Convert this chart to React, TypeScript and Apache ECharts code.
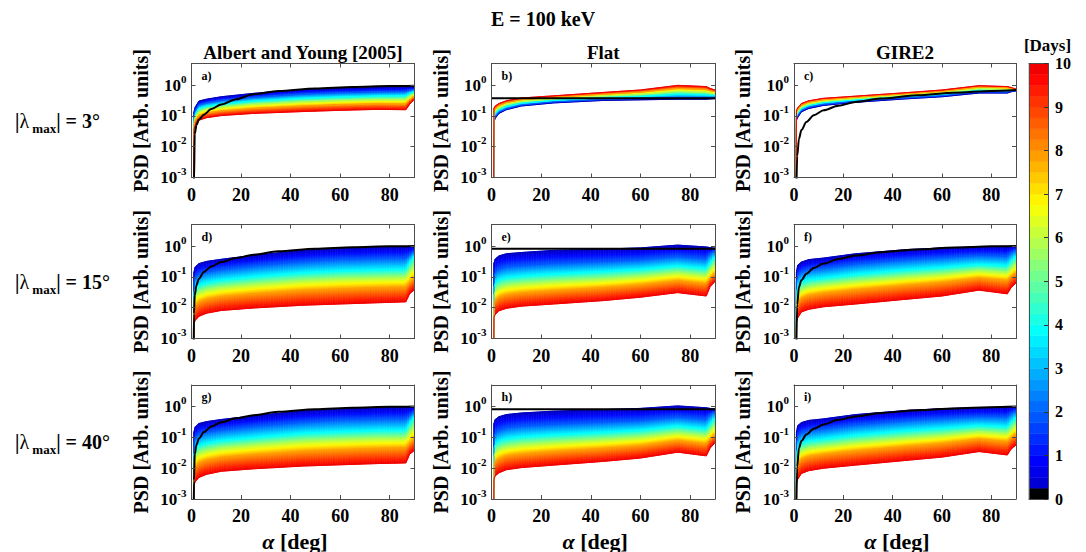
import React, { useEffect, useRef } from "react";
import * as echarts from "echarts";

const SERIF = '"Liberation Serif", "Times New Roman", serif';
const FRAME = "#4d4d4d";

// pitch angles (deg) at which the coloured curves were read
const ALPHA = [0.8, 1, 1.5, 3, 6, 12, 25, 45, 60, 75, 86.5, 88, 90];
// day of each coloured curve (one row per day in every PANEL_* table)
const DAYS = [0.25, 2, 4, 6, 8, 10];
// pitch angles (deg) at which the black (day 0) curves were read
const BLACK_ALPHA = [0, 0.8, 1, 1.3, 2, 3, 5, 8, 12, 18, 25, 35, 50, 65, 80, 90];

// PSD values, written as log10 exponents (-4 = below the axis, i.e. empty loss cone)
const PANEL_A = [
  [-4, -0.87, -0.72, -0.52, -0.46, -0.38, -0.27, -0.15, -0.11, -0.08, -0.07, -0.06, -0.06],
  [-4, -0.99, -0.84, -0.64, -0.58, -0.5, -0.4, -0.29, -0.25, -0.22, -0.21, -0.17, -0.14],
  [-4, -1.1, -0.95, -0.76, -0.69, -0.62, -0.52, -0.43, -0.39, -0.36, -0.35, -0.28, -0.21],
  [-4, -1.2, -1.05, -0.87, -0.79, -0.72, -0.63, -0.55, -0.51, -0.48, -0.48, -0.38, -0.28],
  [-4, -1.31, -1.16, -0.99, -0.91, -0.84, -0.76, -0.68, -0.64, -0.61, -0.62, -0.49, -0.36],
  [-4, -1.45, -1.3, -1.14, -1.06, -0.99, -0.92, -0.86, -0.82, -0.79, -0.8, -0.63, -0.46],
];
const BLACK_A = [-4, -4, -3.2, -1.6, -1.3, -1.12, -0.96, -0.78, -0.63, -0.46, -0.3, -0.19, -0.11, -0.06, -0.03, -0.02];

const PANEL_B = [
  [-4, -1.2, -1.08, -0.92, -0.8, -0.68, -0.58, -0.5, -0.48, -0.46, -0.46, -0.45, -0.44],
  [-4, -1.15, -1.03, -0.88, -0.77, -0.65, -0.55, -0.47, -0.44, -0.41, -0.41, -0.41, -0.41],
  [-4, -1.04, -0.94, -0.81, -0.7, -0.59, -0.5, -0.41, -0.37, -0.3, -0.32, -0.33, -0.34],
  [-4, -0.94, -0.85, -0.74, -0.63, -0.53, -0.45, -0.35, -0.3, -0.2, -0.23, -0.26, -0.28],
  [-4, -0.85, -0.77, -0.67, -0.57, -0.48, -0.4, -0.3, -0.23, -0.11, -0.14, -0.18, -0.22],
  [-4, -0.75, -0.68, -0.6, -0.51, -0.42, -0.35, -0.24, -0.16, -0.01, -0.05, -0.11, -0.16],
];
const BLACK_B = [-0.43, -0.43, -0.43, -0.43, -0.43, -0.43, -0.43, -0.43, -0.43, -0.43, -0.43, -0.43, -0.43, -0.43, -0.43, -0.43];

const PANEL_C = [
  [-4, -1.14, -1.05, -0.87, -0.76, -0.66, -0.56, -0.45, -0.38, -0.26, -0.26, -0.22, -0.19],
  [-4, -1.09, -1.0, -0.83, -0.72, -0.63, -0.53, -0.42, -0.35, -0.22, -0.23, -0.2, -0.18],
  [-4, -1.02, -0.93, -0.77, -0.66, -0.57, -0.48, -0.37, -0.3, -0.17, -0.18, -0.17, -0.17],
  [-4, -0.95, -0.87, -0.71, -0.62, -0.53, -0.44, -0.33, -0.25, -0.12, -0.14, -0.14, -0.15],
  [-4, -0.89, -0.81, -0.66, -0.56, -0.48, -0.4, -0.29, -0.21, -0.07, -0.09, -0.11, -0.14],
  [-4, -0.82, -0.74, -0.6, -0.51, -0.43, -0.36, -0.25, -0.16, -0.02, -0.05, -0.08, -0.13],
];
const BLACK_C = [-4, -4, -4, -2.3, -1.75, -1.46, -1.2, -0.98, -0.82, -0.67, -0.55, -0.44, -0.33, -0.25, -0.19, -0.16];

const PANEL_D = [
  [-4, -0.84, -0.68, -0.57, -0.5, -0.43, -0.3, -0.14, -0.07, -0.04, -0.03, -0.02, 0],
  [-4, -1.17, -1.03, -0.91, -0.84, -0.76, -0.64, -0.5, -0.43, -0.4, -0.39, -0.3, -0.15],
  [-4, -1.52, -1.39, -1.27, -1.19, -1.11, -1.0, -0.87, -0.81, -0.78, -0.76, -0.55, -0.32],
  [-4, -1.78, -1.65, -1.53, -1.44, -1.36, -1.26, -1.14, -1.08, -1.05, -1.03, -0.86, -0.68],
  [-4, -2.06, -1.94, -1.82, -1.73, -1.64, -1.55, -1.44, -1.39, -1.35, -1.33, -1.2, -1.05],
  [-4, -2.51, -2.41, -2.28, -2.18, -2.09, -2.01, -1.92, -1.88, -1.84, -1.81, -1.55, -1.42],
];
const BLACK_D = [-4, -4, -2.2, -1.6, -1.27, -1.06, -0.84, -0.66, -0.52, -0.39, -0.28, -0.17, -0.09, -0.04, -0.01, 0];

const PANEL_E = [
  [-4, -0.55, -0.42, -0.32, -0.25, -0.21, -0.14, -0.1, -0.06, 0.03, -0.03, -0.05, -0.07],
  [-4, -0.97, -0.85, -0.75, -0.67, -0.63, -0.56, -0.5, -0.44, -0.34, -0.41, -0.25, -0.15],
  [-4, -1.32, -1.21, -1.1, -1.03, -0.98, -0.91, -0.83, -0.76, -0.65, -0.73, -0.55, -0.35],
  [-4, -1.58, -1.48, -1.37, -1.29, -1.24, -1.17, -1.09, -1.0, -0.88, -0.97, -0.8, -0.62],
  [-4, -1.86, -1.77, -1.66, -1.58, -1.52, -1.45, -1.35, -1.26, -1.13, -1.22, -1.05, -0.9],
  [-4, -2.3, -2.22, -2.1, -2.02, -1.95, -1.88, -1.77, -1.66, -1.51, -1.62, -1.32, -1.15],
];
const BLACK_E = [-0.09, -0.09, -0.09, -0.09, -0.09, -0.09, -0.09, -0.09, -0.09, -0.09, -0.09, -0.09, -0.09, -0.09, -0.09, -0.09];

const PANEL_F = [
  [-4, -0.84, -0.62, -0.52, -0.44, -0.39, -0.25, -0.12, -0.06, -0.02, -0.01, -0.01, 0],
  [-4, -1.16, -0.96, -0.84, -0.76, -0.71, -0.58, -0.44, -0.37, -0.3, -0.32, -0.22, -0.12],
  [-4, -1.5, -1.32, -1.18, -1.1, -1.04, -0.92, -0.78, -0.7, -0.6, -0.64, -0.5, -0.32],
  [-4, -1.74, -1.58, -1.43, -1.34, -1.27, -1.16, -1.02, -0.93, -0.81, -0.87, -0.75, -0.6],
  [-4, -2.0, -1.85, -1.69, -1.6, -1.53, -1.42, -1.28, -1.18, -1.04, -1.12, -1.0, -0.88],
  [-4, -2.45, -2.33, -2.14, -2.05, -1.97, -1.88, -1.73, -1.62, -1.43, -1.55, -1.35, -1.2],
];
const BLACK_F = [-4, -4, -4, -1.9, -1.33, -1.11, -0.9, -0.71, -0.57, -0.42, -0.31, -0.2, -0.11, -0.05, -0.01, 0];

const PANEL_G = [
  [-4, -0.82, -0.66, -0.55, -0.49, -0.42, -0.3, -0.14, -0.07, -0.04, -0.03, -0.02, 0],
  [-4, -1.17, -1.02, -0.9, -0.83, -0.76, -0.64, -0.5, -0.43, -0.4, -0.39, -0.3, -0.15],
  [-4, -1.53, -1.39, -1.27, -1.19, -1.11, -1.01, -0.87, -0.82, -0.78, -0.77, -0.56, -0.33],
  [-4, -1.79, -1.66, -1.53, -1.45, -1.36, -1.26, -1.14, -1.09, -1.05, -1.04, -0.87, -0.69],
  [-4, -2.08, -1.96, -1.83, -1.74, -1.65, -1.56, -1.45, -1.4, -1.36, -1.34, -1.21, -1.06],
  [-4, -2.55, -2.44, -2.3, -2.2, -2.1, -2.02, -1.93, -1.89, -1.85, -1.83, -1.55, -1.42],
];
const BLACK_G = [-4, -4, -2.4, -1.55, -1.24, -1.04, -0.83, -0.65, -0.51, -0.38, -0.28, -0.17, -0.09, -0.04, -0.01, 0];

const PANEL_H = [
  [-4, -0.55, -0.42, -0.33, -0.26, -0.21, -0.15, -0.1, -0.06, 0.02, -0.04, -0.06, -0.08],
  [-4, -0.98, -0.86, -0.77, -0.69, -0.63, -0.57, -0.5, -0.45, -0.34, -0.41, -0.27, -0.16],
  [-4, -1.34, -1.23, -1.13, -1.05, -0.99, -0.92, -0.84, -0.77, -0.64, -0.73, -0.57, -0.37],
  [-4, -1.61, -1.5, -1.4, -1.32, -1.25, -1.18, -1.09, -1.01, -0.87, -0.96, -0.82, -0.64],
  [-4, -1.9, -1.79, -1.7, -1.6, -1.54, -1.46, -1.36, -1.27, -1.11, -1.21, -1.07, -0.92],
  [-4, -2.35, -2.25, -2.15, -2.05, -1.98, -1.9, -1.78, -1.67, -1.48, -1.6, -1.35, -1.18],
];
const BLACK_H = [-0.09, -0.09, -0.09, -0.09, -0.09, -0.09, -0.09, -0.09, -0.09, -0.09, -0.09, -0.09, -0.09, -0.09, -0.09, -0.09];

const PANEL_I = [
  [-4, -0.84, -0.62, -0.52, -0.45, -0.4, -0.26, -0.13, -0.07, -0.03, -0.02, -0.01, 0],
  [-4, -1.17, -0.97, -0.85, -0.78, -0.72, -0.59, -0.45, -0.38, -0.32, -0.33, -0.23, -0.13],
  [-4, -1.51, -1.33, -1.2, -1.12, -1.06, -0.93, -0.79, -0.71, -0.62, -0.66, -0.52, -0.34],
  [-4, -1.76, -1.59, -1.44, -1.36, -1.3, -1.18, -1.04, -0.95, -0.83, -0.89, -0.77, -0.62],
  [-4, -2.02, -1.87, -1.71, -1.62, -1.55, -1.44, -1.3, -1.2, -1.06, -1.14, -1.03, -0.91],
  [-4, -2.48, -2.36, -2.17, -2.08, -2.0, -1.9, -1.75, -1.64, -1.46, -1.57, -1.38, -1.25],
];
const BLACK_I = [-4, -4, -4, -1.95, -1.35, -1.12, -0.91, -0.72, -0.58, -0.43, -0.32, -0.21, -0.12, -0.06, -0.02, 0];

const COL_TITLES = ["Albert and Young [2005]", "Flat", "GIRE2"];
const ROW_LATITUDES = ["3", "15", "40"];
const PANEL_LETTERS = ["a)", "b)", "c)", "d)", "e)", "f)", "g)", "h)", "i)"];
const MAIN_TITLE = "E = 100 keV";
const Y_NAME = "PSD [Arb. units]";
const COLORBAR_NAME = "[Days]";
const COLORBAR_MAX = 10;
const COLORBAR_STEP = 0.25;

const PANELS = [
  { curves: PANEL_A, black: BLACK_A },
  { curves: PANEL_B, black: BLACK_B },
  { curves: PANEL_C, black: BLACK_C },
  { curves: PANEL_D, black: BLACK_D },
  { curves: PANEL_E, black: BLACK_E },
  { curves: PANEL_F, black: BLACK_F },
  { curves: PANEL_G, black: BLACK_G },
  { curves: PANEL_H, black: BLACK_H },
  { curves: PANEL_I, black: BLACK_I },
];

// layout (px)
const COL_LEFT = [191.5, 491.5, 794];
const COL_W = [223, 223.5, 222];
const ROW_TOP = [63.5, 224.5, 385];
const ROW_H = 114;
const CB = { left: 1029, top: 63.5, width: 19, height: 435.5 };

function jet(t: number) {
  const c = (v: number) => Math.max(0, Math.min(1, v));
  const r = c(1.5 - Math.abs(4 * t - 3));
  const g = c(1.5 - Math.abs(4 * t - 2));
  const b = c(1.5 - Math.abs(4 * t - 1));
  return `rgb(${Math.round(r * 255)},${Math.round(g * 255)},${Math.round(b * 255)})`;
}
const dayColor = (d: number) => jet(0.04 + d * 0.085);

const Y_RICH = {
  b: { fontFamily: SERIF, fontSize: 17, fontWeight: "bold", color: "#000", lineHeight: 24 },
  s: { fontFamily: SERIF, fontSize: 11, fontWeight: "bold", color: "#000", lineHeight: 12, verticalAlign: "top" },
};

function yFmt(v: number) {
  const l = Math.log10(v);
  const e = Math.round(l);
  if (Math.abs(l - e) > 0.01) return "";
  return `{b|10}{s|${e}}`;
}

const lerp = (P: number[], Q: number[], t: number) => [P[0] + (Q[0] - P[0]) * t, P[1] + (Q[1] - P[1]) * t];

function bandSeries(p: number, curves: number[][]) {
  const items: any[] = [];
  for (let k = 0; k < DAYS.length - 1; k++)
    for (let i = 0; i < ALPHA.length - 1; i++) items.push({ kind: 0, k, i });
  for (let k = 0; k < DAYS.length; k++) items.push({ kind: 1, k });
  return {
    type: "custom",
    xAxisIndex: 2 * p,
    yAxisIndex: 2 * p,
    clip: true,
    silent: true,
    z: 2,
    data: items.map((_, j) => [45, 0.1, j]),
    encode: { x: 0, y: 1 },
    renderItem: (params: any, api: any) => {
      const it = items[params.dataIndex];
      const cs = params.coordSys;
      const bottom = cs.y + cs.height;
      const pt = (a: number, v: number) => api.coord([a, Math.pow(10, v)]);
      if (it.kind === 0) {
        const A = curves[it.k];
        const B = curves[it.k + 1];
        const p1 = pt(ALPHA[it.i], A[it.i]);
        const p2 = pt(ALPHA[it.i + 1], A[it.i + 1]);
        const p3 = pt(ALPHA[it.i + 1], B[it.i + 1]);
        const p4 = pt(ALPHA[it.i], B[it.i]);
        const d0 = DAYS[it.k];
        const d1 = DAYS[it.k + 1];
        const m = Math.max(1, Math.ceil(Math.abs(p2[0] - p1[0]) / 2.5));
        const children: any[] = [];
        for (let j = 0; j < m; j++) {
          const t0 = j / m;
          const t1 = (j + 1) / m;
          const a0 = lerp(p1, p2, t0);
          const a1 = lerp(p1, p2, t1);
          const b0 = lerp(p4, p3, t0);
          const b1 = lerp(p4, p3, t1);
          if (Math.min(a0[1], a1[1], b0[1], b1[1]) > bottom + 1) continue;
          const xm = (a0[0] + a1[0]) / 2;
          const ya = (a0[1] + a1[1]) / 2;
          const yb = (b0[1] + b1[1]) / 2;
          const mk = () =>
            Math.abs(yb - ya) < 0.5
              ? dayColor((d0 + d1) / 2)
              : new echarts.graphic.LinearGradient(
                  xm, ya, xm, yb,
                  [0, 0.25, 0.5, 0.75, 1].map((t) => ({ offset: t, color: dayColor(d0 + (d1 - d0) * t) })),
                  true
                );
          children.push({
            type: "polygon",
            shape: { points: [a0, a1, b1, b0] },
            style: { fill: mk(), stroke: mk(), lineWidth: 0.7 },
          });
        }
        return { type: "group", children };
      }
      const c = curves[it.k];
      return {
        type: "polyline",
        z2: 10,
        shape: { points: ALPHA.map((a, i) => pt(a, c[i])) },
        style: { stroke: dayColor(DAYS[it.k]), lineWidth: 1, fill: null },
      };
    },
  };
}

function blackSeries(p: number, black: number[]) {
  return {
    type: "line",
    xAxisIndex: 2 * p,
    yAxisIndex: 2 * p,
    data: BLACK_ALPHA.map((a, i) => [a, Math.pow(10, black[i])]),
    showSymbol: false,
    symbol: "none",
    smooth: 0.3,
    smoothMonotone: "x",
    silent: true,
    clip: true,
    z: 4,
    lineStyle: { color: "#000", width: 2 },
  };
}

function buildOption() {
  const grid: any[] = [];
  const xAxis: any[] = [];
  const yAxis: any[] = [];
  const series: any[] = [];
  const graphic: any[] = [];

  const txt = (x: number, y: number, text: string, font: any, extra: any = {}) => ({
    type: "text",
    x,
    y,
    silent: true,
    ...extra,
    style: {
      text,
      fill: "#000",
      fontFamily: SERIF,
      align: "center",
      verticalAlign: "middle",
      textAlign: "center",
      textVerticalAlign: "middle",
      ...font,
    },
  });

  PANELS.forEach((panel, p) => {
    const row = Math.floor(p / 3);
    const col = p % 3;
    const left = COL_LEFT[col];
    const top = ROW_TOP[row];
    const width = COL_W[col];
    const height = ROW_H;
    grid.push({ left, top, width, height });

    const xBase = {
      gridIndex: p,
      type: "value",
      min: 0,
      max: 90,
      interval: 20,
      splitLine: { show: false },
      axisLine: { show: true, onZero: false, lineStyle: { color: FRAME, width: 1 } },
      axisTick: { show: true, inside: true, length: 4, lineStyle: { color: FRAME } },
      z: 5,
    };
    xAxis.push({
      ...xBase,
      position: "bottom",
      axisLabel: {
        show: true,
        margin: 8,
        fontFamily: SERIF,
        fontSize: 18,
        fontWeight: "bold",
        color: "#000",
        formatter: (v: number) => (v % 20 === 0 ? String(v) : ""),
      },
    });
    xAxis.push({ ...xBase, position: "top", axisLabel: { show: false } });

    const yBase = {
      gridIndex: p,
      type: "log",
      logBase: 10,
      min: 0.001,
      max: 5,
      splitLine: { show: false },
      minorTick: { show: false },
      axisLine: { show: true, onZero: false, lineStyle: { color: FRAME, width: 1 } },
      axisTick: { show: true, inside: true, length: 4, lineStyle: { color: FRAME } },
      z: 5,
    };
    yAxis.push({ ...yBase, position: "left", axisLabel: { show: true, margin: 5, formatter: yFmt, rich: Y_RICH } });
    yAxis.push({ ...yBase, position: "right", axisLabel: { show: false } });

    series.push(bandSeries(p, panel.curves));
    series.push(blackSeries(p, panel.black));

    graphic.push(
      txt(left - 51, top + height / 2, Y_NAME, { fontSize: 20, fontWeight: "bold" }, { rotation: Math.PI / 2 })
    );
    graphic.push(
      txt(left + 10, top + 12, PANEL_LETTERS[p], {
        fontSize: 12,
        fontWeight: "bold",
        align: "left",
        textAlign: "left",
      })
    );
  });

  COL_TITLES.forEach((t, col) => {
    graphic.push(txt(COL_LEFT[col] + COL_W[col] / 2, ROW_TOP[0] - 11.5, t, { fontSize: 19, fontWeight: "bold" }));
    graphic.push(
      txt(COL_LEFT[col] + COL_W[col] / 2 - 8, 541, "{i|α}{r| [deg]}", {
        rich: {
          i: { fontFamily: SERIF, fontSize: 22, fontStyle: "italic", fontWeight: "bold", color: "#000" },
          r: { fontFamily: SERIF, fontSize: 22, fontWeight: "bold", color: "#000" },
        },
      })
    );
  });

  ROW_LATITUDES.forEach((lat, row) => {
    graphic.push(
      txt(15, ROW_TOP[row] + ROW_H / 2, `{b||}{l|λ}{sub| max}{b|| = ${lat}°}`, {
        align: "left",
        textAlign: "left",
        rich: {
          b: { fontFamily: SERIF, fontSize: 20, fontWeight: "bold", color: "#000", lineHeight: 28 },
          l: { fontFamily: SERIF, fontSize: 20, color: "#000", lineHeight: 28 },
          sub: { fontFamily: SERIF, fontSize: 13, fontWeight: "bold", color: "#000", lineHeight: 14, verticalAlign: "bottom" },
        },
      })
    );
  });

  graphic.push(txt(543, 19, MAIN_TITLE, { fontSize: 20, fontWeight: "bold" }));
  graphic.push(txt(CB.left + CB.width / 2 + 9, 45, COLORBAR_NAME, { fontSize: 17, fontWeight: "bold" }));

  // colorbar
  const cbIdx = PANELS.length;
  grid.push({ left: CB.left, top: CB.top, width: CB.width, height: CB.height });
  const cbX = {
    gridIndex: cbIdx,
    type: "value",
    min: 0,
    max: 1,
    axisLabel: { show: false },
    axisTick: { show: false },
    splitLine: { show: false },
    axisLine: { show: true, onZero: false, lineStyle: { color: FRAME, width: 1 } },
    z: 5,
  };
  xAxis.push({ ...cbX, position: "bottom" });
  xAxis.push({ ...cbX, position: "top" });
  const cbY = {
    gridIndex: cbIdx,
    type: "value",
    min: 0,
    max: COLORBAR_MAX,
    interval: 1,
    splitLine: { show: false },
    axisLine: { show: true, onZero: false, lineStyle: { color: FRAME, width: 1 } },
    z: 5,
  };
  yAxis.push({
    ...cbY,
    position: "right",
    axisTick: { show: true, inside: true, length: 4, lineStyle: { color: "#333" } },
    axisLabel: { show: true, margin: 7, fontFamily: SERIF, fontSize: 16, fontWeight: "bold", color: "#000" },
  });
  yAxis.push({ ...cbY, position: "left", axisTick: { show: false }, axisLabel: { show: false } });

  const nLevels = Math.round(COLORBAR_MAX / COLORBAR_STEP);
  const levels = Array.from({ length: nLevels }, (_, j) => j);
  series.push({
    type: "custom",
    xAxisIndex: 2 * cbIdx,
    yAxisIndex: 2 * cbIdx,
    silent: true,
    z: 2,
    data: levels.map((j) => [0.5, (j + 0.5) * COLORBAR_STEP, j]),
    encode: { x: 0, y: 1 },
    renderItem: (params: any, api: any) => {
      const j = params.dataIndex;
      const a = api.coord([0, j * COLORBAR_STEP]);
      const b = api.coord([1, (j + 1) * COLORBAR_STEP]);
      const color = j === 0 ? "#000" : dayColor((j + 1) * COLORBAR_STEP);
      return {
        type: "rect",
        shape: { x: a[0], y: b[1], width: b[0] - a[0], height: a[1] - b[1] },
        style: { fill: color, stroke: color, lineWidth: 0.5 },
      };
    },
  });

  return {
    animation: false,
    backgroundColor: "#fff",
    textStyle: { fontFamily: SERIF },
    grid,
    xAxis,
    yAxis,
    series,
    graphic,
  };
}

export default function App() {
  const ref = useRef<HTMLDivElement>(null);
  useEffect(() => {
    const chart = echarts.init(ref.current as HTMLDivElement, null, { renderer: "svg" });
    chart.setOption(buildOption() as any);
    return () => chart.dispose();
  }, []);
  return (
    <div
      ref={ref}
      style={{ position: "fixed", left: 0, top: 0, width: 1086, height: 552, background: "#fff" }}
    />
  );
}
